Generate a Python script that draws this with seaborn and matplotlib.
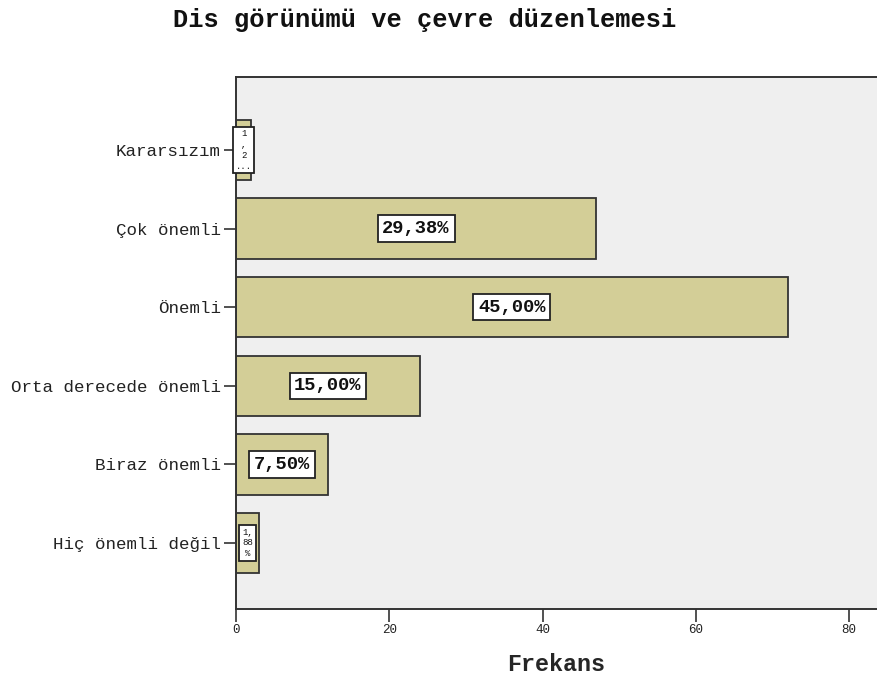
import matplotlib
matplotlib.use("Agg")
import matplotlib.pyplot as plt
import seaborn as sns
import pandas as pd

# Frequency table for the survey item
categories = ["Kararsızım", "Çok önemli", "Önemli", "Orta derecede önemli",
              "Biraz önemli", "Hiç önemli değil"]
frequencies = [2, 47, 72, 24, 12, 3]
percent_labels = ["1\n,\n2\n...", "29,38%", "45,00%", "15,00%", "7,50%", "1,\n88\n%"]
x_ticks = [0, 20, 40, 60, 80]

sns.set_theme(style="white")
plt.rcParams["font.family"] = ["Liberation Mono", "DejaVu Sans Mono"]

W, H = 877, 680
fig = plt.figure(figsize=(W / 100, H / 100), dpi=100)
ax = fig.add_axes([236 / W, 1 - 609 / H, 1 - 236 / W, (609 - 77) / H])

df = pd.DataFrame({"kategori": categories, "frekans": frequencies})
sns.barplot(data=df, x="frekans", y="kategori", order=categories,
            color="#D3CE97", saturation=1, edgecolor="#333333",
            linewidth=1.3, width=0.77, ax=ax)

ax.set_facecolor("#EFEFEF")
ax.set_xlim(0, 83.65)
ax.set_ylim(5.84, -0.93)
ax.set_xticks(x_ticks)
ax.set_xticklabels([str(t) for t in x_ticks], fontsize=9, color="#222222")
ax.tick_params(axis="both", direction="out", length=9, width=1.2,
               color="#333333", pad=2, left=True, bottom=True)
ax.tick_params(axis="y", labelsize=12.6, labelcolor="#222222", pad=2)
ax.set_ylabel("")
ax.set_xlabel("Frekans", fontsize=16.8, fontweight="bold", labelpad=12)

for side in ("left", "bottom", "top"):
    ax.spines[side].set_visible(True)
    ax.spines[side].set_color("#333333")
    ax.spines[side].set_linewidth(1.4)
ax.spines["right"].set_visible(False)

# Percentage boxes centred on each bar
for i, (freq, lab) in enumerate(zip(frequencies, percent_labels)):
    small = "\n" in lab
    ax.text(freq / 2, i, lab, ha="center", va="center",
            fontsize=6.5 if small else 13.5,
            fontweight="normal" if small else "bold",
            linespacing=1.25 if small else 1.0,
            color="#111111",
            bbox=dict(boxstyle="square,pad=0.3" if small else "square,pad=0.25",
                      facecolor="white", edgecolor="#222222", linewidth=1.3))

fig.text(425 / W, 1 - 20 / H, "Dis görünümü ve çevre düzenlemesi",
         ha="center", va="center", fontsize=18.3, fontweight="bold",
         color="#111111")

fig.savefig("out.png", dpi=100, facecolor="white")
